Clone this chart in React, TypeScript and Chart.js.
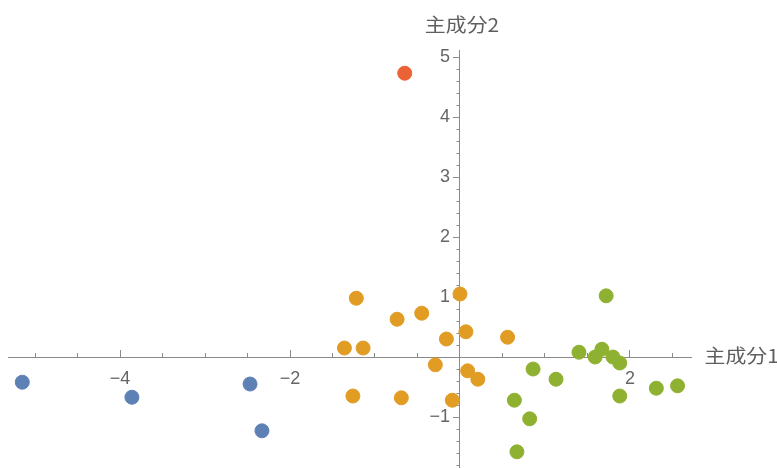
import { useEffect, useRef } from "react";
import { Chart, registerables } from "chart.js";

Chart.register(...registerables);

// ---- data ----
const blueX = [-5.15, -3.86, -2.47, -2.33];
const blueY = [-0.42, -0.67, -0.45, -1.23];

const orangeX = [-1.22, -1.36, -1.14, -0.74, -0.45, 0.0, 0.07, -0.16, 0.56, -0.29, 0.09, 0.21, -0.09, -0.69, -1.26];
const orangeY = [0.98, 0.15, 0.15, 0.63, 0.73, 1.05, 0.42, 0.3, 0.33, -0.13, -0.23, -0.37, -0.72, -0.68, -0.65];

const greenX = [1.72, 1.4, 1.59, 1.67, 1.8, 1.88, 0.86, 1.13, 0.64, 0.82, 0.67, 1.88, 2.31, 2.56];
const greenY = [1.02, 0.08, 0.0, 0.13, 0.0, -0.1, -0.2, -0.37, -0.72, -1.03, -1.58, -0.65, -0.52, -0.48];

const redX = [-0.65];
const redY = [4.73];

const X_MAJOR = [-4, -2, 2];
const X_MINOR = [-5, -4.5, -3.5, -3, -2.5, -1.5, -1, -0.5, 0.5, 1, 1.5, 2.5];
const Y_MAJOR = [-1, 1, 2, 3, 4, 5];
const Y_MINOR = [
  -1.8, -1.6, -1.4, -1.2, -0.8, -0.6, -0.4, -0.2, 0.2, 0.4, 0.6, 0.8, 1.2, 1.4, 1.6, 1.8, 2.2, 2.4, 2.6,
  2.8, 3.2, 3.4, 3.6, 3.8, 4.2, 4.4, 4.6, 4.8,
];

const X_MIN = -5.318;
const X_MAX = 2.724;
const Y_MIN = -1.833;
const Y_MAX = 5.117;

const X_TITLE = "主成分1";
const Y_TITLE = "主成分2";

const COLORS = ["#5E81B5", "#E19C24", "#8FB131", "#EB6235"];
const AXIS = "#8a8a8a";
const LABEL = "#666666";
const TICK_FONT = { family: "'Liberation Sans', Arial, sans-serif", size: 18 };

const pts = (xs: number[], ys: number[]) => xs.map((x, i) => ({ x, y: ys[i] }));
const fmt = (v: number) => (v < 0 ? "\u2212" + Math.abs(v) : String(v));

const axisTitles = {
  id: "axisTitles",
  afterDraw(chart: any) {
    const { ctx, scales } = chart;
    const x0 = scales.x.getPixelForValue(0);
    const y0 = scales.y.getPixelForValue(0);
    const sx = 1.1;
    ctx.save();
    ctx.font = "19px 'Noto Sans CJK JP'";
    ctx.fillStyle = "#5f5f5f";
    ctx.textBaseline = "middle";
    // x title, to the right of the x axis
    ctx.save();
    ctx.translate(scales.x.right + 13, y0 - 1);
    ctx.scale(sx, 1);
    ctx.textAlign = "left";
    ctx.fillText(X_TITLE, 0, 0);
    ctx.restore();
    // y title, above the y axis
    ctx.save();
    ctx.translate(x0 + 2, scales.y.top - 25);
    ctx.scale(sx, 1);
    ctx.textAlign = "center";
    ctx.fillText(Y_TITLE, 0, 0);
    ctx.restore();
    ctx.restore();
  },
};

export default function App() {
  const ref = useRef<HTMLCanvasElement>(null);
  useEffect(() => {
    if (!ref.current) return;
    const mk = (xs: number[], ys: number[], c: string) => ({
      data: pts(xs, ys),
      backgroundColor: c,
      borderColor: c,
      pointRadius: 7,
      pointBorderWidth: 1,
      pointHoverRadius: 7,
      xAxisID: "x",
      yAxisID: "y",
    });
    const chart = new Chart(ref.current, {
      type: "scatter",
      data: {
        datasets: [
          mk(blueX, blueY, COLORS[0]),
          mk(orangeX, orangeY, COLORS[1]),
          mk(greenX, greenY, COLORS[2]),
          mk(redX, redY, COLORS[3]),
        ],
      },
      options: {
        responsive: false,
        animation: false,
        events: [],
        layout: { autoPadding: false, padding: { left: 8, right: 85.5, top: 50, bottom: 1 } },
        plugins: { legend: { display: false }, tooltip: { enabled: false } },
        scales: {
          x: {
            type: "linear",
            axis: "x",
            min: X_MIN,
            max: X_MAX,
            position: { y: 0 },
            afterBuildTicks: (s: any) => {
              s.ticks = X_MAJOR.map((v) => ({ value: v }));
            },
            grid: { drawOnChartArea: false, drawTicks: true, tickLength: -8, tickColor: AXIS, tickWidth: 1 },
            border: { display: true, color: AXIS, width: 1 },
            ticks: {
              font: TICK_FONT,
              color: LABEL,
              padding: 19,
              autoSkip: false,
              maxRotation: 0,
              callback: (v: any) => fmt(Number(v)),
            },
          },
          xMinor: {
            type: "linear",
            axis: "x",
            min: X_MIN,
            max: X_MAX,
            position: { y: 0 },
            afterBuildTicks: (s: any) => {
              s.ticks = X_MINOR.map((v) => ({ value: v }));
            },
            grid: { drawOnChartArea: false, drawTicks: true, tickLength: -4, tickColor: AXIS, tickWidth: 1 },
            border: { display: false },
            ticks: { display: false, autoSkip: false },
          },
          y: {
            type: "linear",
            axis: "y",
            min: Y_MIN,
            max: Y_MAX,
            position: { x: 0 },
            afterBuildTicks: (s: any) => {
              s.ticks = Y_MAJOR.map((v) => ({ value: v }));
            },
            grid: { drawOnChartArea: false, drawTicks: true, tickLength: 6, tickColor: AXIS, tickWidth: 1 },
            border: { display: true, color: AXIS, width: 1 },
            ticks: { display: false, autoSkip: false },
          },
          yMinor: {
            type: "linear",
            axis: "y",
            min: Y_MIN,
            max: Y_MAX,
            position: { x: 0 },
            afterBuildTicks: (s: any) => {
              s.ticks = Y_MINOR.map((v) => ({ value: v }));
            },
            grid: { drawOnChartArea: false, drawTicks: true, tickLength: 3.5, tickColor: AXIS, tickWidth: 1 },
            border: { display: false },
            ticks: { display: false, autoSkip: false },
          },
          yLabels: {
            type: "linear",
            axis: "y",
            min: Y_MIN,
            max: Y_MAX,
            position: { x: -0.118 },
            afterBuildTicks: (s: any) => {
              s.ticks = Y_MAJOR.map((v) => ({ value: v }));
            },
            grid: { display: false, drawTicks: false },
            border: { display: false },
            ticks: {
              font: TICK_FONT,
              color: LABEL,
              padding: -12,
              autoSkip: false,
              callback: (v: any) => fmt(Number(v)),
            },
          },
        },
      } as any,
      plugins: [axisTitles],
    });
    return () => chart.destroy();
  }, []);
  return (
    <div style={{ position: "fixed", left: 0, top: 0, width: 777, height: 468, background: "#fff" }}>
      <canvas ref={ref} width={777} height={468} />
    </div>
  );
}
